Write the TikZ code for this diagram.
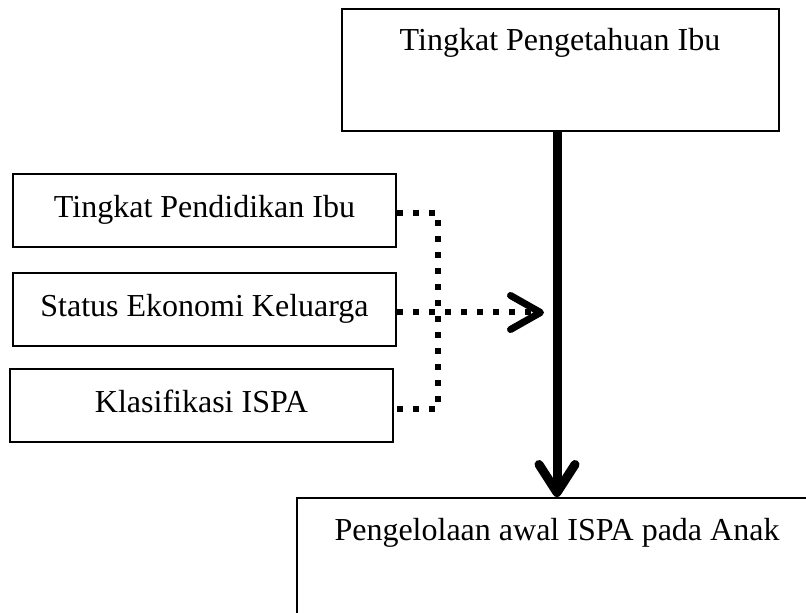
\documentclass[tikz,border=0pt]{standalone}
\usepackage{fontspec}
\setmainfont{Liberation Serif}
\usetikzlibrary{positioning,arrows.meta}
\tikzset{
  varbox/.style  = {shape=rectangle, draw, line width=1pt, align=center,
                    font=\fontsize{16}{19}\selectfont,
                    text height=11pt, text depth=4pt},
  sidebox/.style = {varbox, minimum width=191.5pt, minimum height=36.5pt},
  mainbox/.style = {varbox, anchor=north, inner ysep=10pt},
  dotbus/.style  = {line width=3pt, dash pattern=on 3pt off 5pt},
  spine/.style   = {line width=4.5pt,
                    -{Straight Barb[length=14pt,width=18pt,line cap=round,line join=round]}}
}
\begin{document}
\begin{tikzpicture}[x=0.5pt,y=-0.5pt]
\useasboundingbox (0,0) rectangle (806,613);
\clip (0,0) rectangle (806,613);
% variabel utama
\node [mainbox, minimum width=218.5pt, text depth=30pt] (tahu) at (560,8) {Tingkat Pengetahuan Ibu};
\node [mainbox, minimum width=260pt, text depth=60pt] (kelola) at (557,497) {Pengelolaan awal ISPA pada Anak};
% variabel pengganggu
\node [sidebox] (didik) at (204.5,210.5) {Tingkat Pendidikan Ibu};
\node [sidebox, below=12pt of didik] (ekonomi) {Status Ekonomi Keluarga};
\node [sidebox, below=10.5pt of ekonomi, xshift=-1.5pt] (klasif) {Klasifikasi ISPA};
\coordinate (ujung) at (544,310);
\draw [spine] (tahu.south -| kelola.north) -- (kelola.north);
\draw [dotbus] ([yshift=-1.5pt]didik.east) -- ++(20.5pt,0) |- ([yshift=-2pt]klasif.east);
\draw [dotbus,-{Straight Barb[length=15pt,width=17pt,line cap=round,line join=round,line width=3.5pt]}]
  ([yshift=-1.5pt]ekonomi.east) -- ([yshift=-1.5pt]ekonomi.east -| ujung);
\end{tikzpicture}
\end{document}
